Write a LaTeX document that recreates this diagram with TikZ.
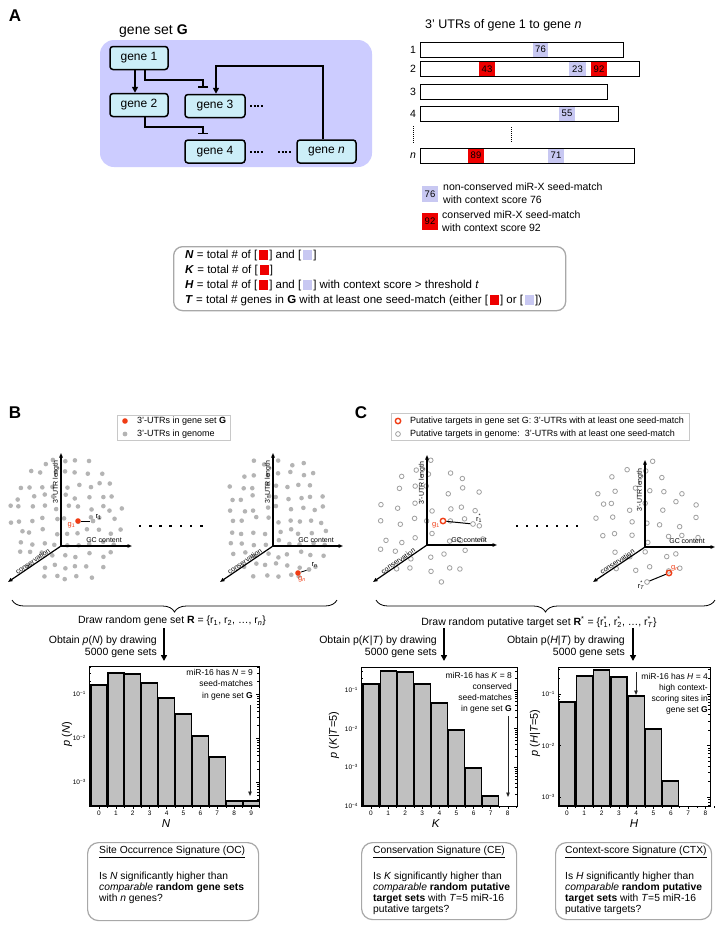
\documentclass[tikz,border=0pt]{standalone}
\usepackage{fontspec}
\setmainfont{Liberation Sans}
\usetikzlibrary{arrows.meta,decorations.pathreplacing,calc}
\definecolor{lav}{HTML}{CCCCFF}
\definecolor{genefill}{HTML}{CCEEF8}
\definecolor{sitelav}{HTML}{C8C8F2}
\definecolor{sitered}{HTML}{EE0000}
\definecolor{dotgray}{HTML}{B4B4B4}
\definecolor{cgray}{HTML}{A0A0A0}
\definecolor{ptred}{HTML}{F03C14}
\definecolor{boxgray}{HTML}{A8A8A8}
\definecolor{legline}{HTML}{C8C8C8}
\definecolor{bargray}{HTML}{C0C0C0}
\newcommand\fsz[2]{\fontsize{#1}{#2}\selectfont}
\newcommand\sqR{\raisebox{-1.5pt}{\textcolor{sitered}{\rule{9pt}{10pt}}}}
\newcommand\sqL{\raisebox{-1.5pt}{\textcolor{sitelav}{\rule{9pt}{10pt}}}}
\newcommand\rsup[1]{r\rlap{\raisebox{0.15ex}{\textsuperscript{*}}}\textsubscript{#1}}
\newcommand\dotcloud[8]{%
 \pgfmathsetseed{#7}%
 \foreach \i in {-8,...,8}{%
  \foreach \j in {-8,...,8}{%
   \pgfmathsetmacro\px{#1+(\i)*#5+#6*rand}%
   \pgfmathsetmacro\py{#2+(\j)*#5+#6*rand}%
   \pgfmathsetmacro\ux{(\px-#1)/#3}%
   \pgfmathsetmacro\uy{(\py-#2)/#4}%
   \pgfmathtruncatemacro\ok{((\ux)*(\ux)+(\uy)*(\uy)<1)?1:0}%
   \ifnum\ok=1 \path[#8] (\px,\py) circle;\fi
  }%
 }%
}
\newcommand\logticks[6]{%
 \foreach \d in {-4,...,-1}{%
  \foreach \k in {1,...,9}{%
   \pgfmathsetmacro\yy{#5-#6*(log10(\k)+\d+1)}%
   \pgfmathtruncatemacro\ok{and(\yy>#3+0.5,\yy<#4-0.5)}%
   \ifnum\ok=1
    \pgfmathsetmacro\tl{\k==1?3:1.6}%
    \draw[line width=0.5pt] (#1,\yy) -- ++(\tl,0) (#2,\yy) -- ++(-\tl,0);
   \fi
  }%
 }%
}
\tikzset{
 lbl/.style={font=\fsz{17}{20}\bfseries, inner sep=0pt},
 genebox/.style={draw, line width=1.5pt, rounded corners=3pt, fill=genefill, minimum height=23pt, inner sep=0pt, font=\fsz{12}{14}},
 conn/.style={line width=1.6pt},
 act/.style={conn, -{Triangle[length=6pt,width=6pt]}},
 inh/.style={conn, -{Bar[width=10pt]}},
 gdots/.style={line width=2pt, dash pattern=on 2pt off 1.6pt},
 vdots/.style={line width=0.9pt, dash pattern=on 1pt off 1pt},
 utrbar/.style={draw, line width=0.8pt},
 siteL/.style={fill=sitelav, inner sep=0pt, minimum height=15pt, font=\fsz{9.5}{11}},
 siteR/.style={fill=sitered, inner sep=0pt, minimum height=15pt, font=\fsz{9.5}{11}},
 txt/.style={inner sep=0pt, font=\fsz{10.5}{12.5}},
 smalltxt/.style={inner sep=0pt, font=\fsz{9}{11}},
 axlab/.style={inner sep=0.5pt, font=\fsz{7}{8}},
 ptlab/.style={inner sep=0pt, font=\fsz{7.5}{8}},
 ticklab/.style={inner sep=0pt, font=\fsz{6.5}{7}},
 anno/.style={inner sep=0pt, font=\fsz{8.5}{11.5}, align=right},
 defbox/.style={draw=boxgray, line width=1.3pt, rounded corners=9pt},
 legbox/.style={draw=legline, line width=0.8pt, inner sep=0pt},
 sigbox/.style={draw=boxgray, line width=1.2pt, rounded corners=11pt, inner sep=0pt},
 sigtxt/.style={inner sep=0pt, font=\fsz{10.3}{11}, align=left},
 bdot/.style={fill=dotgray, radius=2.3pt},
 cdot/.style={draw=cgray, line width=0.8pt, radius=2.3pt},
 reddot/.style={circle, fill=ptred, minimum size=5.6pt, inner sep=0pt},
 graydot/.style={circle, fill=dotgray, minimum size=4.8pt, inner sep=0pt},
 redring/.style={circle, draw=ptred, line width=1.4pt, minimum size=5.4pt, inner sep=0pt},
 grayring/.style={circle, draw=cgray, line width=0.8pt, minimum size=4.8pt, inner sep=0pt},
 axis/.style={line width=1.2pt, -{Triangle[length=4.5pt,width=3.5pt]}},
 bigarr/.style={line width=1.5pt, -{Triangle[length=6pt,width=6pt]}},
 thinarr/.style={line width=0.9pt, black!85, -{Triangle[length=4.5pt,width=3.5pt]}},
 hbar/.style={fill=bargray, draw=black, line width=1.2pt},
 hframe/.style={draw, line width=0.7pt},
 brace/.style={line width=0.8pt, decorate, decoration={brace, mirror, amplitude=12pt}},
}
\begin{document}
\begin{tikzpicture}[x=1pt,y=-1pt]
\fill[white] (0,0) rectangle (724,929);
\useasboundingbox (0,0) rectangle (724,929);

% ================= Panel A =================
\node[lbl] (labA) at (15,16) {A};
\path[fill=lav, rounded corners=14pt] (100,40) rectangle (372,167);
\node[inner sep=0pt, anchor=west, font=\fsz{14}{16}] (gsG) at (119,31) {gene set \textbf{G}};
\node[genebox, minimum width=58pt] (g1) at (139,58) {gene 1};
\node[genebox, minimum width=58pt] (g2) at (139,105) {gene 2};
\node[genebox, minimum width=60pt] (g3) at (215,106) {gene 3};
\node[genebox, minimum width=60pt] (g4) at (215,151.5) {gene 4};
\node[genebox, minimum width=59pt] (gn) at (326.5,151.5) {gene \textit{n}};
\draw[gdots] (250,106) -- (263,106);
\draw[gdots] (250,152) -- (263,152);
\draw[gdots] (278,152) -- (291,152);
\draw[act] ([xshift=-4pt]g1.south) -- ([xshift=-4pt]g2.north);
\draw[inh] ([xshift=6pt]g1.south) -- ++(0,10) -| ([xshift=-12pt,yshift=6pt]g3.north);
\draw[act] ([xshift=-3.5pt]gn.north) -- ++(0,-73) -| ([xshift=1pt]g3.north);
\draw[inh] ([xshift=6pt]g2.south) -- ++(0,10) -| ([xshift=-12pt,yshift=5pt]g4.north);

\node[inner sep=0pt, anchor=west, font=\fsz{12.5}{14}] (utrT) at (425,25) {3' UTRs of gene 1 to gene \textit{n}};
\node[txt] (rl1) at (413,49.5) {1};
\node[txt] (rl2) at (413,69) {2};
\node[txt] (rl3) at (413,92) {3};
\node[txt] (rl4) at (413,113.5) {4};
\node[txt] (rln) at (413,155.5) {\textit{n}};
\draw[vdots] (413,126) -- (413,143);
\draw[vdots] (511,127) -- (511,143);
\node[siteL, minimum width=15pt] (s76) at (540.5,49.5) {76};
\node[siteR, minimum width=16pt] (s43) at (487,69) {43};
\node[siteL, minimum width=17pt] (s23) at (577.5,69) {23};
\node[siteR, minimum width=16pt] (s92) at (599,69) {92};
\node[siteL, minimum width=16pt] (s55) at (567,113.5) {55};
\node[siteR, minimum width=16pt] (s89) at (476,155.5) {89};
\node[siteL, minimum width=16pt] (s71) at (556,155.5) {71};
\draw[utrbar] (420,42) rectangle (623,57);
\draw[utrbar] (420,61.5) rectangle (639,76.5);
\draw[utrbar] (420,84.5) rectangle (607,99.5);
\draw[utrbar] (420,106) rectangle (618,121);
\draw[utrbar] (420,148) rectangle (634,163);

\node[siteL, minimum width=16pt, minimum height=16pt] (legL) at (430,194) {76};
\node[inner sep=0pt, anchor=west, align=left, font=\fsz{10.5}{13}] (legLt) at (443,193.5) {non-conserved miR-X seed-match\\with context score 76};
\node[siteR, minimum width=16pt, minimum height=17pt] (legR) at (430,221.5) {92};
\node[inner sep=0pt, anchor=west, align=left, font=\fsz{10.5}{13.5}] (legRt) at (442,221) {conserved miR-X seed-match\\with context score 92};

\node[defbox, minimum width=392pt, minimum height=64pt, anchor=north west] (defs) at (173,246) {};
\node[inner sep=0pt, anchor=west, align=left, font=\fsz{11.5}{15}] (defst) at (185,278) {%
\textbf{\textit{N}} = total \# of [\kern2pt\sqR\kern1pt] and [\kern2pt\sqL\kern1pt]\\
\textbf{\textit{K}} = total \# of [\kern2pt\sqR\kern1pt]\\
\textbf{\textit{H}} = total \# of [\kern2pt\sqR\kern1pt] and [\kern2pt\sqL\kern1pt] with context score > threshold \textit{t}\\
\textbf{\textit{T}} = total \# genes in \textbf{G} with at least one seed-match (either [\kern2pt\sqR\kern1pt] or [\kern2pt\sqL\kern1pt])};

% ================= Panel B =================
\node[lbl] (labB) at (15,413) {B};
\node[legbox, minimum width=113pt, minimum height=25pt, anchor=north west] (legB) at (117,415) {};
\node[reddot] (legBr) at (125,421) {};
\node[smalltxt, anchor=west] (legB1) at (137,421) {3'-UTRs in gene set \textbf{G}};
\node[graydot] (legBg) at (125,434) {};
\node[smalltxt, anchor=west] (legB2) at (137,434) {3'-UTRs in genome};

\dotcloud{66}{520}{57}{66}{11.5}{3}{11}{bdot}
\coordinate (bo1) at (61,546); \coordinate (by1) at (61,453);
\coordinate (bx1) at (132,546); \coordinate (bz1) at (8,582);
\draw[axis] (bo1) -- (by1);
\draw[axis] (bo1) -- (bx1);
\draw[axis] (bo1) -- (bz1);
\node[axlab, rotate=90] (bl1) at (56,482) {3'-UTR length};
\node[axlab] (bg1) at (104,540) {GC content};
\path (bz1) -- (bo1) node[axlab, midway, sloped, above] (bc1) {conservation};
\node[reddot] (gB1) at (78,521) {};
\node[graydot] (rB1) at (93,521) {};
\draw[line width=0.8pt] (gB1) -- (rB1);
\node[ptlab, text=ptred, anchor=east] (gB1l) at (75.5,525) {g\textsubscript{1}};
\node[ptlab, anchor=west] (rB1l) at (95.5,517) {r\textsubscript{1}};
\foreach \k in {0,...,6} \fill (140+10.2*\k-1.3,524.7) rectangle ++(2.6,2.6);

\dotcloud{278}{520}{57}{66}{11.5}{3}{23}{bdot}
\coordinate (bo2) at (273,546); \coordinate (by2) at (273,453);
\coordinate (bx2) at (343,546); \coordinate (bz2) at (220,582);
\draw[axis] (bo2) -- (by2);
\draw[axis] (bo2) -- (bx2);
\draw[axis] (bo2) -- (bz2);
\node[axlab, rotate=90] (bl2) at (268,482) {3'-UTR length};
\node[axlab] (bg2) at (316,540) {GC content};
\path (bz2) -- (bo2) node[axlab, midway, sloped, above] (bc2) {conservation};
\node[reddot] (gBn) at (298,573) {};
\node[graydot] (rBn) at (309,569.5) {};
\draw[line width=0.8pt] (gBn) -- (rBn);
\node[ptlab, text=ptred, anchor=north] (gBnl) at (302,576) {g\textsubscript{\textit{n}}};
\node[ptlab, anchor=west] (rBnl) at (311.5,565) {r\textsubscript{\textit{n}}};

\draw[brace] (12,600) -- (337,600);
\node[txt] (drawB) at (172,621) {Draw random gene set \textbf{R} = \{r\textsubscript{1}, r\textsubscript{2}, …, r\textsubscript{\textit{n}}\}};
\coordinate (aB0) at (164,628); \coordinate (aB1) at (164,661);
\draw[bigarr] (aB0) -- (aB1);
\node[txt, align=right, anchor=east] (obB) at (157,647) {Obtain \textit{p}(\textit{N}) by drawing\\5000 gene sets};

% histogram B
\foreach \i/\t in {0/685,1/673,2/674,3/683,4/698,5/714,6/736,7/757,8/801,9/801}
  \draw[hbar] ({99+16.9*\i-8},\t) rectangle ({99+16.9*\i+8},806);
\draw[hframe] (89,666) rectangle (259,806);
\logticks{89}{259}{666}{806}{694}{44}
\foreach \i in {0,...,9} {
  \draw[line width=0.5pt] ({99+16.9*\i},806) -- ++(0,2.5);
  \draw[line width=0.5pt] ({99+16.9*\i+8.45},806) -- ++(0,1.5);
  \node[ticklab] (bxt\i) at ({99+16.9*\i},813) {\i};
}
\node[ticklab, anchor=east] (byl1) at (86,694) {10\textsuperscript{−1}};
\node[ticklab, anchor=east] (byl2) at (86,738) {10\textsuperscript{−2}};
\node[ticklab, anchor=east] (byl3) at (86,782) {10\textsuperscript{−3}};
\node[inner sep=0pt, rotate=90, font=\fsz{11}{12}] (pN) at (67,734) {\textit{p} (\textit{N})};
\node[anno, anchor=north east] (annB) at (253,669) {miR-16 has \textit{N} = 9\\seed-matches\\in gene set \textbf{G}};
\coordinate (hB0) at (250,705); \coordinate (hB1) at (250,796);
\draw[thinarr] (hB0) -- (hB1);
\node[inner sep=0pt, font=\fsz{11.5}{13}] (xN) at (166,824) {\textit{N}};

\node[sigbox, minimum width=171pt, minimum height=78pt, anchor=north west] (sigB) at (87,842) {};
\node[sigtxt, anchor=north west] (sigBt) at (99,845.5) {\underline{Site Occurrence Signature (OC)}\\[14pt]Is \textit{N} significantly higher than\\\textit{comparable} \textbf{random gene sets}\\with \textit{n} genes?};

% ================= Panel C =================
\node[lbl] (labC) at (361,413) {C};
\node[legbox, minimum width=298pt, minimum height=27pt, anchor=north west] (legC) at (391,413) {};
\node[redring] (legCr) at (398,421) {};
\node[smalltxt, anchor=west] (legC1) at (410,421) {Putative targets in gene set G: 3'-UTRs with at least one seed-match};
\node[grayring] (legCg) at (398,434) {};
\node[smalltxt, anchor=west] (legC2) at (410,434) {Putative targets in genome:\ \ 3'-UTRs with at least one seed-match};

\dotcloud{430}{522}{58}{62}{16}{5}{5}{cdot}
\coordinate (co1) at (427,545); \coordinate (cy1) at (427,455);
\coordinate (cx1) at (497,545); \coordinate (cz1) at (373,582);
\draw[axis] (co1) -- (cy1);
\draw[axis] (co1) -- (cx1);
\draw[axis] (co1) -- (cz1);
\node[axlab, rotate=90] (cl1) at (422,483) {3'-UTR length};
\node[axlab] (cg1) at (469,540) {GC content};
\path (cz1) -- (co1) node[axlab, midway, sloped, above] (cc1) {conservation};
\node[redring] (gC1) at (443,521) {};
\node[grayring] (rC1) at (473,524) {};
\draw[line width=1pt] (gC1) -- (rC1);
\node[ptlab, text=ptred, anchor=east] (gC1l) at (440,525) {g\textsubscript{1}};
\node[ptlab, anchor=west] (rC1l) at (476,518) {\rsup{1}};
\foreach \k in {0,...,6} \fill (517+10*\k-1.3,524.7) rectangle ++(2.6,2.6);

\dotcloud{648}{522}{57}{62}{16}{5}{9}{cdot}
\coordinate (co2) at (645,547); \coordinate (cy2) at (645,460);
\coordinate (cx2) at (715,547); \coordinate (cz2) at (593,582);
\draw[axis] (co2) -- (cy2);
\draw[axis] (co2) -- (cx2);
\draw[axis] (co2) -- (cz2);
\node[axlab, rotate=90] (cl2) at (640,490) {3'-UTR length};
\node[axlab] (cg2) at (687,541) {GC content};
\path (cz2) -- (co2) node[axlab, midway, sloped, above] (cc2) {conservation};
\node[redring] (gCn) at (669,573) {};
\node[grayring] (rCn) at (647,582) {};
\draw[line width=1pt] (gCn) -- (rCn);
\node[ptlab, text=ptred, anchor=south west] (gCnl) at (671,571) {g\textsubscript{\textit{n}}};
\node[ptlab, anchor=east] (rCnl) at (644.5,585) {\rsup{\textit{T}}};

\draw[brace] (376,600) -- (715,600);
\node[txt] (drawC) at (539,622) {Draw random putative target set \textbf{R}\textsuperscript{*} = \{\rsup{1}, \rsup{2}, …, \rsup{\textit{T}}\}};
\coordinate (aC0) at (444,628); \coordinate (aC1) at (444,661);
\draw[bigarr] (aC0) -- (aC1);
\coordinate (aD0) at (633,628); \coordinate (aD1) at (633,661);
\draw[bigarr] (aD0) -- (aD1);
\node[txt, align=right, anchor=east] (obC1) at (437,647) {Obtain p(\textit{K}|\textit{T}) by drawing\\5000 gene sets};
\node[txt, align=right, anchor=east] (obC2) at (625,647) {Obtain p(\textit{H}|\textit{T}) by drawing\\5000 gene sets};

% histogram C1
\foreach \i/\t in {0/684,1/671,2/672,3/684,4/703,5/730,6/768,7/796}
  \draw[hbar] ({371+17.1*\i-8},\t) rectangle ({371+17.1*\i+8},806);
\draw[hframe] (361,667) rectangle (517,806);
\logticks{361}{517}{667}{806}{690}{38.7}
\foreach \i in {0,...,8} {
  \draw[line width=0.5pt] ({371+17.1*\i},806) -- ++(0,2.5);
  \draw[line width=0.5pt] ({371+17.1*\i+8.55},806) -- ++(0,1.5);
  \node[ticklab] (cxt\i) at ({371+17.1*\i},813) {\i};
}
\node[ticklab, anchor=east] (cyl1) at (358,690) {10\textsuperscript{−1}};
\node[ticklab, anchor=east] (cyl2) at (358,729) {10\textsuperscript{−2}};
\node[ticklab, anchor=east] (cyl3) at (358,767) {10\textsuperscript{−3}};
\node[ticklab, anchor=east] (cyl4) at (358,806) {10\textsuperscript{−4}};
\node[inner sep=0pt, rotate=90, font=\fsz{11}{12}] (pK) at (334,735) {\textit{p} (\textit{K}|\textit{T}=5)};
\node[anno, anchor=north east, font=\fsz{8.5}{11}] (annC1) at (512,672.5) {miR-16 has \textit{K} = 8\\conserved\\seed-matches\\in gene set \textbf{G}};
\coordinate (hC0) at (508,716); \coordinate (hC1) at (508,797);
\draw[thinarr] (hC0) -- (hC1);
\node[inner sep=0pt, font=\fsz{11.5}{13}] (xK) at (436,824) {\textit{K}};

% histogram C2
\foreach \i/\t in {0/702,1/676,2/670,3/677,4/696,5/729,6/781}
  \draw[hbar] ({567+17.3*\i-8},\t) rectangle ({567+17.3*\i+8},806);
\draw[hframe] (558,667) rectangle (710,806);
\logticks{558}{710}{667}{806}{694}{51.5}
\foreach \i in {0,...,8} {
  \draw[line width=0.5pt] ({567+17.3*\i},806) -- ++(0,2.5);
  \draw[line width=0.5pt] ({567+17.3*\i+8.65},806) -- ++(0,1.5);
  \node[ticklab] (hxt\i) at ({567+17.3*\i},813) {\i};
}
\node[ticklab, anchor=east] (hyl1) at (555,694) {10\textsuperscript{−1}};
\node[ticklab, anchor=east] (hyl2) at (555,746) {10\textsuperscript{−2}};
\node[ticklab, anchor=east] (hyl3) at (555,797) {10\textsuperscript{−3}};
\node[inner sep=0pt, rotate=90, font=\fsz{11}{12}] (pH) at (535,733) {\textit{p} (\textit{H}|\textit{T}=5)};
\node[anno, anchor=north east, font=\fsz{8.5}{11}] (annC2) at (708,673.5) {miR-16 has \textit{H} = 4\\high context-\\scoring sites in\\gene set \textbf{G}};
\coordinate (hD0) at (636,672); \coordinate (hD1) at (636,695);
\draw[thinarr] (hD0) -- (hD1);
\node[inner sep=0pt, font=\fsz{11.5}{13}] (xH) at (634,824) {\textit{H}};

\node[sigbox, minimum width=155pt, minimum height=77pt, anchor=north west] (sigC1) at (361,842) {};
\node[sigtxt, anchor=north west] (sigC1t) at (373,845.5) {\underline{Conservation Signature (CE)}\\[14pt]Is \textit{K} significantly higher than\\\textit{comparable} \textbf{random putative}\\\textbf{target sets} with \textit{T}=5 miR-16\\putative targets?};
\node[sigbox, minimum width=156pt, minimum height=77pt, anchor=north west] (sigC2) at (555,842) {};
\node[sigtxt, anchor=north west] (sigC2t) at (565,845.5) {\underline{Context-score Signature (CTX)}\\[14pt]Is \textit{H} significantly higher than\\\textit{comparable} \textbf{random putative}\\\textbf{target sets} with \textit{T}=5 miR-16\\putative targets?};
\end{tikzpicture}
\end{document}
